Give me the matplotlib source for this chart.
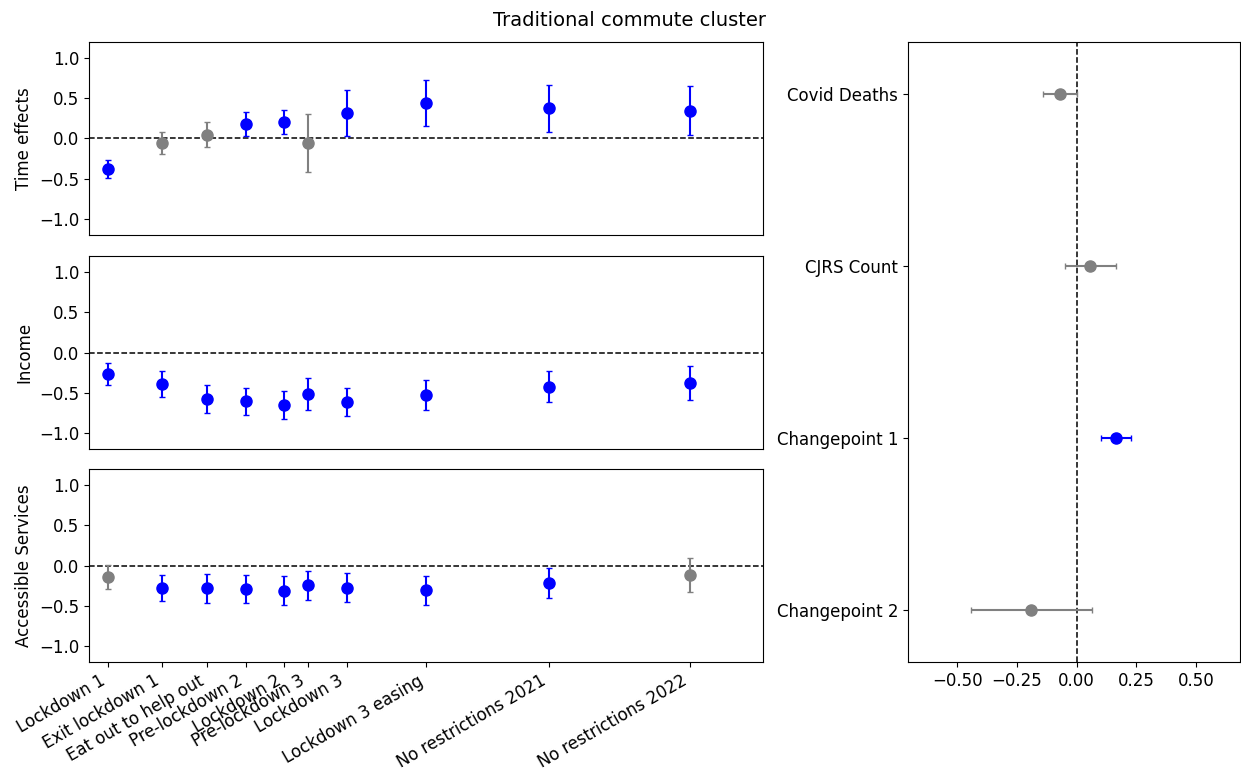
import matplotlib
matplotlib.use("Agg")
import matplotlib.pyplot as plt
import numpy as np

plt.rcParams["font.size"] = 12

# periodos (dias desde el lockdown 1)
periodos = ["Lockdown 1", "Exit lockdown 1", "Eat out to help out", "Pre-lockdown 2",
            "Lockdown 2", "Pre-lockdown 3", "Lockdown 3", "Lockdown 3 easing",
            "No restrictions 2021", "No restrictions 2022"]
dias = [0, 70, 128, 178, 227, 258, 308, 411, 570, 752]

# efectos temporales
tiempo = [-0.38, -0.055, 0.045, 0.18, 0.20, -0.055, 0.315, 0.44, 0.375, 0.345]
tiempo_err = [0.11, 0.14, 0.155, 0.15, 0.15, 0.36, 0.29, 0.29, 0.295, 0.305]
tiempo_sig = [1, 0, 0, 1, 1, 0, 1, 1, 1, 1]

# ingreso
ingreso = [-0.265, -0.39, -0.58, -0.607, -0.657, -0.517, -0.616, -0.53, -0.423, -0.38]
ingreso_err = [0.135, 0.16, 0.17, 0.17, 0.175, 0.2, 0.175, 0.185, 0.19, 0.215]
ingreso_sig = [1, 1, 1, 1, 1, 1, 1, 1, 1, 1]

# servicios accesibles
servicios = [-0.144, -0.28, -0.284, -0.288, -0.313, -0.247, -0.276, -0.309, -0.214, -0.115]
servicios_err = [0.145, 0.16, 0.178, 0.172, 0.182, 0.178, 0.18, 0.178, 0.186, 0.21]
servicios_sig = [0, 1, 1, 1, 1, 1, 1, 1, 1, 0]

# panel derecho
variables = ["Covid Deaths", "CJRS Count", "Changepoint 1", "Changepoint 2"]
coef = [-0.07, 0.057, 0.163, -0.19]
coef_err = [0.072, 0.107, 0.063, 0.253]
coef_sig = [0, 0, 1, 0]


def color(s):
    return "blue" if s else "grey"


fig = plt.figure(figsize=(12.41, 7.69), dpi=100)

paneles = [
    ("Time effects", tiempo, tiempo_err, tiempo_sig, [0.0717, 0.6944, 0.5431, 0.2510]),
    ("Income", ingreso, ingreso_err, ingreso_sig, [0.0717, 0.4161, 0.5431, 0.2510]),
    ("Accessible Services", servicios, servicios_err, servicios_sig, [0.0717, 0.1391, 0.5431, 0.2510]),
]

for i, (nombre, valores, errores, sig, pos) in enumerate(paneles):
    ax = fig.add_axes(pos)
    ax.axhline(0, color="black", linestyle="--", linewidth=1.1)
    for x, y, e, s in zip(dias, valores, errores, sig):
        ax.errorbar(x, y, yerr=e, fmt="o", color=color(s), markersize=8,
                    capsize=2.2, elinewidth=1.5)
    ax.set_ylim(-1.2, 1.2)
    ax.set_xlim(-25, 846)
    ax.set_yticks([-1.0, -0.5, 0.0, 0.5, 1.0])
    ax.set_ylabel(nombre)
    if i < 2:
        ax.set_xticks([])
    else:
        ax.set_xticks(dias)
        ax.set_xticklabels(periodos, rotation=30, ha="right")

ax2 = fig.add_axes([0.7317, 0.1391, 0.2675, 0.8063])
ypos = np.arange(len(variables))[::-1]
ax2.axvline(0, color="black", linestyle="--", linewidth=1.1)
for y, c, e, s in zip(ypos, coef, coef_err, coef_sig):
    ax2.errorbar(c, y, xerr=e, fmt="o", color=color(s), markersize=8,
                 capsize=2.2, elinewidth=1.5)
ax2.set_yticks(ypos)
ax2.set_yticklabels(variables)
ax2.set_ylim(-0.3, 3.3)
ax2.set_xlim(-0.705, 0.683)
ax2.set_xticks([-0.5, -0.25, 0.0, 0.25, 0.5])

fig.suptitle("Traditional commute cluster", x=0.507, y=0.9727, va="center", fontsize=14)

fig.savefig("out.png", dpi=100)
